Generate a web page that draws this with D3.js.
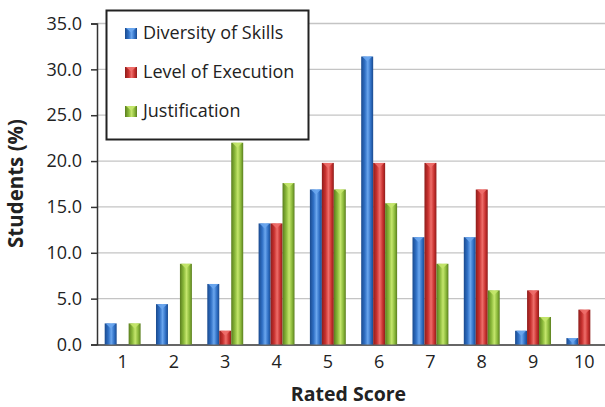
<!DOCTYPE html>
<html>
<head>
<meta charset="utf-8">
<script src="https://cdn.jsdelivr.net/npm/d3@7"></script>
<style>
  html, body { margin: 0; padding: 0; background: #fff; }
  svg { display: block; }
  text { font-family: "Open Sans", "DejaVu Sans", sans-serif; fill: #222; }
</style>
</head>
<body>
<svg id="chart" width="605" height="407"></svg>
<script>
// Rated score categories and percentage of students per score
const scores = ["1", "2", "3", "4", "5", "6", "7", "8", "9", "10"];
const seriesNames = ["Diversity of Skills", "Level of Execution", "Justification"];
const diversity = [2.3, 4.4, 6.6, 13.2, 16.9, 31.4, 11.7, 11.7, 1.5, 0.7];
const execution = [0, 0, 1.5, 13.2, 19.8, 19.8, 19.8, 16.9, 5.9, 3.8];
const justification = [2.3, 8.8, 22.0, 17.6, 16.9, 15.4, 8.8, 5.9, 3.0, 0];
const yTicks = [0, 5, 10, 15, 20, 25, 30, 35];

const colors = [
  { base: "#2f6fc4", light: "#6aa6ee", dark: "#1a4a8e" },
  { base: "#c8312f", light: "#ee6e6a", dark: "#8e1d1b" },
  { base: "#8ab83a", light: "#c4e66c", dark: "#5a7e1e" }
];

const svg = d3.select("#chart");
const defs = svg.append("defs");
colors.forEach((c, i) => {
  const g = defs.append("linearGradient").attr("id", "grad" + i)
    .attr("x1", "0%").attr("x2", "100%").attr("y1", "0%").attr("y2", "0%");
  g.append("stop").attr("offset", "0%").attr("stop-color", c.dark);
  g.append("stop").attr("offset", "30%").attr("stop-color", c.base);
  g.append("stop").attr("offset", "55%").attr("stop-color", c.light);
  g.append("stop").attr("offset", "80%").attr("stop-color", c.base);
  g.append("stop").attr("offset", "100%").attr("stop-color", c.dark);
});

const margin = { left: 97, top: 23.5, bottom: 62.5 };
const plotW = 513;
const x0 = d3.scaleBand().domain(scores).range([margin.left, margin.left + plotW]).paddingInner(0.3).paddingOuter(0.15);
const x1 = d3.scaleBand().domain(seriesNames).range([0, x0.bandwidth()]);
const y = d3.scaleLinear().domain([0, 35]).range([407 - margin.bottom, margin.top]);

// Horizontal gridlines
svg.append("g").selectAll("line").data(yTicks.filter(d => d > 0)).join("line")
  .attr("x1", margin.left).attr("x2", 605)
  .attr("y1", d => y(d)).attr("y2", d => y(d))
  .attr("stroke", "#c4c4c4").attr("stroke-width", 1.3);

// Y axis
const yAxis = d3.axisLeft(y).tickValues(yTicks).tickFormat(d3.format(".1f")).tickSizeOuter(0).tickSize(6).tickPadding(9);
const gy = svg.append("g").attr("transform", `translate(${margin.left},0)`).call(yAxis);
gy.attr("font-size", null).attr("font-family", null);
gy.select(".domain").attr("stroke", "#333").attr("stroke-width", 1.5);
gy.selectAll(".tick line").attr("stroke", "#333").attr("stroke-width", 1.5);
gy.selectAll(".tick text").style("font-size", "18px").attr("fill", "#222");

// X axis
const xAxis = d3.axisBottom(x0).tickSize(0).tickPadding(11);
const gx = svg.append("g").attr("transform", `translate(0,${y(0)})`).call(xAxis);
gx.attr("font-size", null).attr("font-family", null);
gx.select(".domain").attr("stroke", "#333").attr("stroke-width", 1.5);
gx.selectAll(".tick text").style("font-size", "18px").attr("fill", "#222");

// Bars
const series = [diversity, execution, justification];
series.forEach((vals, si) => {
  const g = svg.append("g");
  const data = scores.map((s, i) => ({ s, v: vals[i] })).filter(d => d.v > 0);
  const bx = d => x0(d.s) + x1(seriesNames[si]);
  const bw = x1.bandwidth();
  g.selectAll("rect").data(data).join("rect")
    .attr("x", d => bx(d))
    .attr("y", d => y(d.v))
    .attr("width", bw)
    .attr("height", d => y(0) - y(d.v))
    .attr("fill", `url(#grad${si})`);
  // chevron highlight at the top of each bar
  g.selectAll("path").data(data).join("path")
    .attr("d", d => {
      const l = bx(d), t = y(d.v);
      return `M${l + 1},${t} L${l + bw - 1},${t} L${l + bw / 2},${t + Math.min(5, y(0) - t)} Z`;
    })
    .attr("fill", colors[si].light).attr("opacity", 0.9);
});

// Axis titles
svg.append("text").attr("x", 348.5).attr("y", 401).attr("text-anchor", "middle")
  .style("font-size", "19.5px").style("font-weight", "bold").text("Rated Score");
svg.append("text").attr("transform", "translate(23,183.5) rotate(-90)").attr("text-anchor", "middle")
  .style("font-size", "20.5px").style("font-weight", "bold").text("Students (%)");

// Legend
const lg = svg.append("g");
lg.append("rect").attr("x", 106.5).attr("y", 10.5).attr("width", 202).attr("height", 129)
  .attr("fill", "#fff").attr("stroke", "#222").attr("stroke-width", 2);
seriesNames.forEach((name, i) => {
  const base = 39 + i * 39;
  const cy = base - 5.5;
  lg.append("rect").attr("x", 125).attr("y", cy - 5.5).attr("width", 12).attr("height", 11)
    .attr("fill", `url(#grad${i})`);
  lg.append("path").attr("d", `M126,${cy - 5.5} L136,${cy - 5.5} L131,${cy - 1} Z`).attr("fill", colors[i].light);
  lg.append("text").attr("x", 143).attr("y", base).style("font-size", "18px").text(name);
});
</script>
</body>
</html>
